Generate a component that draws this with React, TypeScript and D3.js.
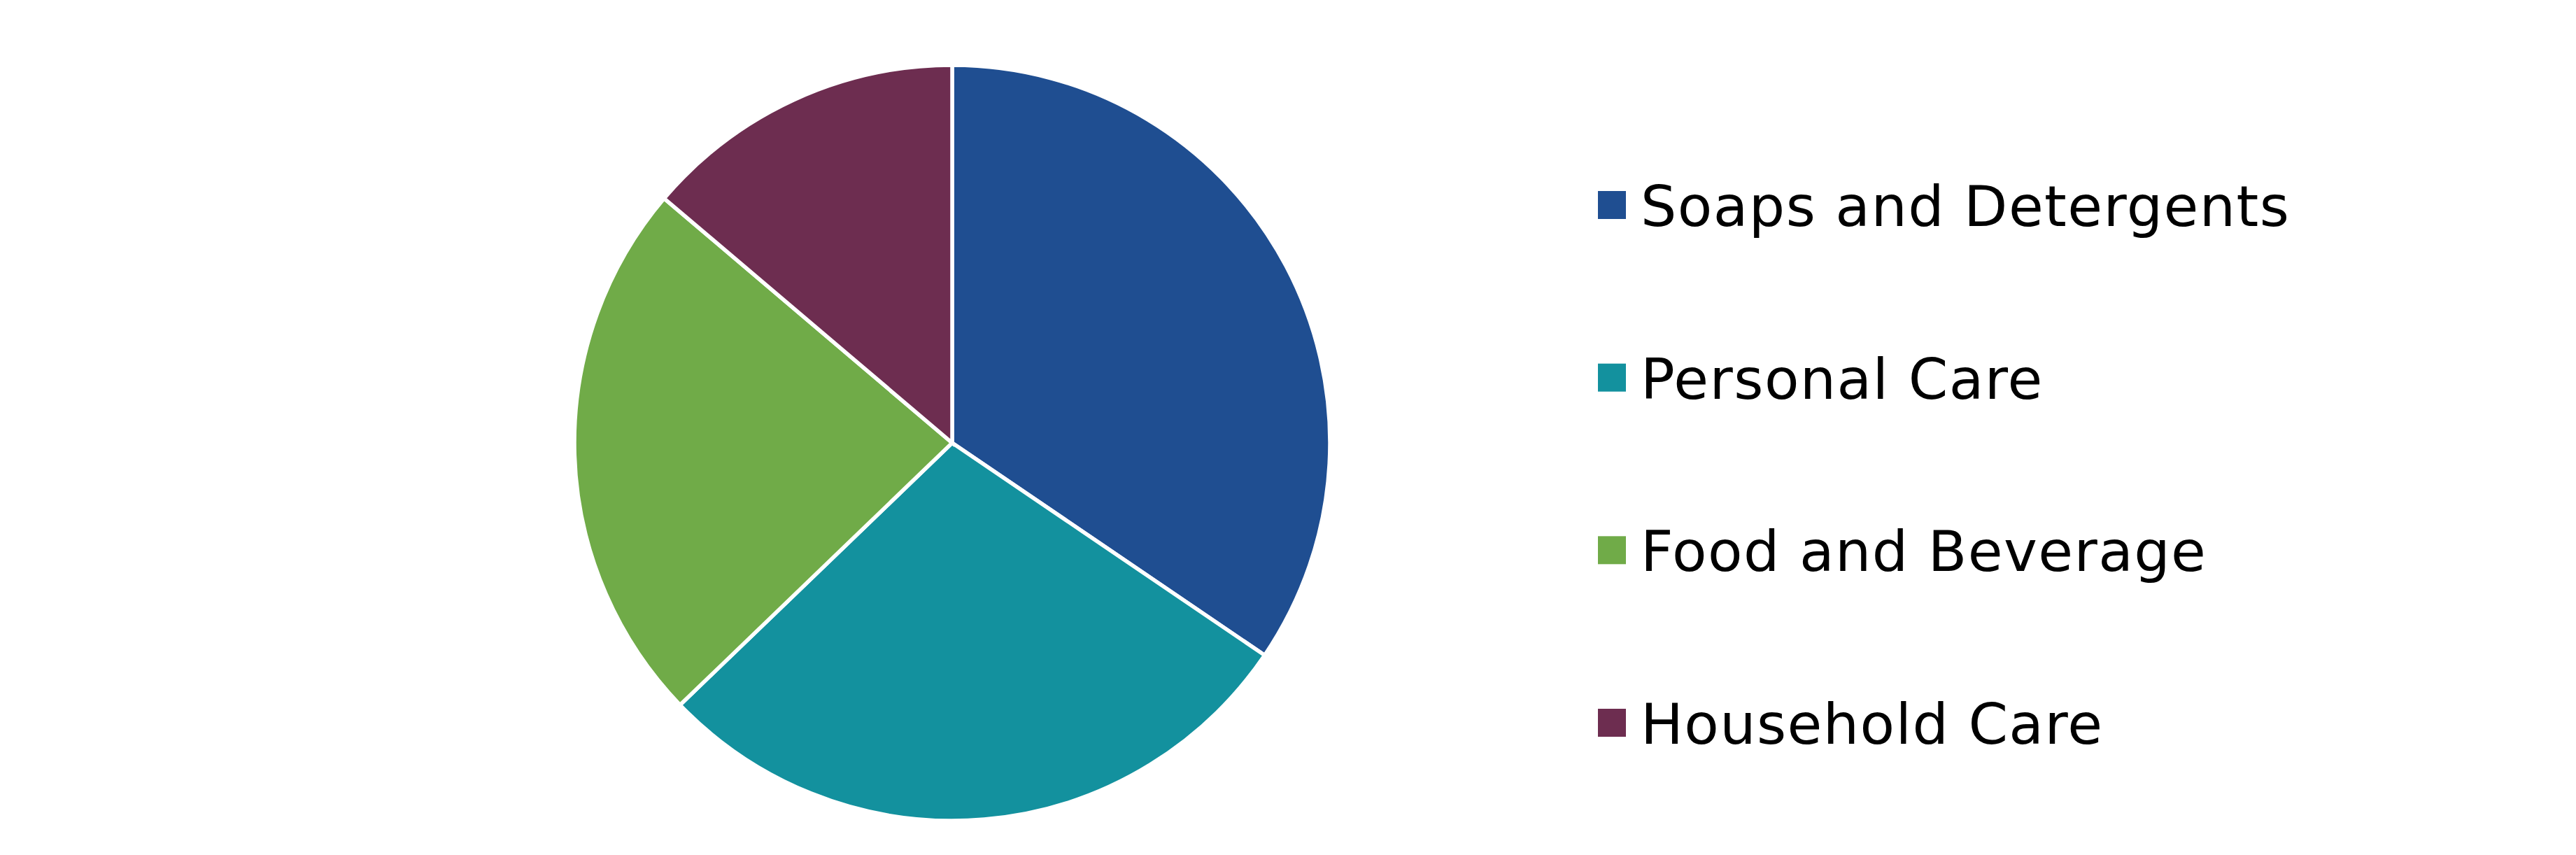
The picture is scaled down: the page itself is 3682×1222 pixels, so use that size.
import React from "react";
import * as d3 from "d3";

const categories = ["Soaps and Detergents", "Personal Care", "Food and Beverage", "Household Care"];
const values = [34.5, 28.3, 23.4, 13.8];
const colors = ["#1F4E91", "#13919E", "#70AB48", "#6D2D50"];

const W = 3682;
const H = 1222;

export default function App() {
  const cx = 1361;
  const cy = 633;
  const r = 540;
  const pie = d3.pie<number>().sort(null).value((d) => d)(values);
  const arc = d3.arc<d3.PieArcDatum<number>>().innerRadius(0).outerRadius(r);

  const legendX = 2284;
  const legendY = d3.scalePoint<string>().domain(categories).range([323, 1063]);

  return (
    <svg
      width={W}
      height={H}
      style={{ position: "absolute", left: 0, top: 0, background: "#fff" }}
      xmlns="http://www.w3.org/2000/svg"
    >
      <rect x={0} y={0} width={W} height={H} fill="#fff" />
      <g transform={`translate(${cx},${cy})`}>
        {pie.map((p, i) => (
          <path key={i} d={arc(p) || ""} fill={colors[i]} stroke="#fff" strokeWidth={5.5} strokeLinejoin="miter" />
        ))}
      </g>
      <g>
        {categories.map((c, i) => {
          const y = legendY(c) as number;
          return (
            <g key={c}>
              <rect x={legendX} y={y - 50} width={40} height={40} fill={colors[i]} />
              <text
                x={2345}
                y={y}
                fontFamily="Verdana, 'DejaVu Sans', sans-serif"
                fontSize={81}
                letterSpacing={1.4}
                fill="#000"
              >
                {c}
              </text>
            </g>
          );
        })}
      </g>
    </svg>
  );
}
